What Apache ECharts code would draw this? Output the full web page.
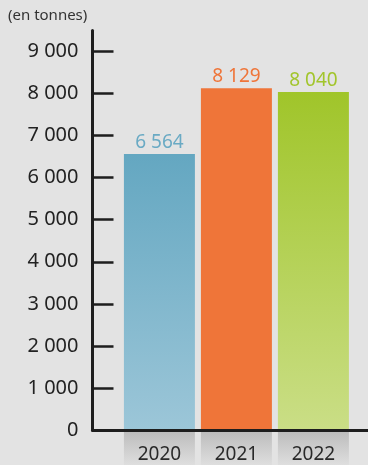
<!DOCTYPE html>
<html>
<head>
<meta charset="utf-8">
<script src="https://cdn.jsdelivr.net/npm/echarts@6/dist/echarts.min.js"></script>
<style>
html,body{margin:0;padding:0;background:#e3e3e3;}
#c{width:368px;height:465px;}
</style>
</head>
<body>
<div id="c"></div>
<script>
const years = [2020, 2021, 2022];
const values = [6564, 8129, 8040];
const yTicks = [0, 1000, 2000, 3000, 4000, 5000, 6000, 7000, 8000, 9000];
const unitLabel = '(en tonnes)';

const barTop = ['#64a7c1', '#ef7539', '#a0c52a'];
const barBottom = ['#9cc6d8', '#ef7539', '#cade86'];
const labelColors = ['#6aaac4', '#ef7539', '#a2c52c'];

function fmt(v) { return String(v).replace(/\B(?=(\d{3})+(?!\d))/g, ' '); }
function grad(a, b) {
  return new echarts.graphic.LinearGradient(0, 0, 0, 1, [{offset: 0, color: a}, {offset: 1, color: b}]);
}

const chart = echarts.init(document.getElementById('c'), null, {renderer: 'canvas'});
const xMin = 2019.131, xMax = 2022.709;
const font = '"Noto Sans", sans-serif';

chart.setOption({
  backgroundColor: '#e3e3e3',
  animation: false,
  graphic: [{
    type: 'text', left: 8, top: 8,
    style: {text: unitLabel, fontSize: 15, fontFamily: font, fill: '#333'}
  }],
  grid: [
    {left: 92.5, right: 0, top: 30.5, height: 399.5},
    {left: 92.5, right: 0, top: 432, height: 34}
  ],
  xAxis: [
    {gridIndex: 0, type: 'value', min: xMin, max: xMax, z: 5,
     axisLine: {show: true, lineStyle: {color: '#1e1e1e', width: 3}},
     axisTick: {show: false}, axisLabel: {show: false}, splitLine: {show: false}},
    {gridIndex: 1, type: 'value', min: xMin, max: xMax, show: false}
  ],
  yAxis: [
    {gridIndex: 0, type: 'value', min: 0, max: 9500, interval: 1000, z: 5,
     axisLine: {show: true, lineStyle: {color: '#1e1e1e', width: 3}},
     axisTick: {show: true, inside: true, length: 21, customValues: yTicks,
                lineStyle: {color: '#1e1e1e', width: 2.5}},
     axisLabel: {customValues: yTicks, margin: 14, fontSize: 20, fontFamily: font, color: '#222',
                 formatter: fmt},
     splitLine: {show: false}},
    {gridIndex: 1, type: 'value', min: 0, max: 1, show: false}
  ],
  series: [
    {
      type: 'bar', xAxisIndex: 0, yAxisIndex: 0, barWidth: 71,
      data: years.map((y, i) => ({
        value: [y, values[i]],
        itemStyle: {color: grad(barTop[i], barBottom[i])},
        label: {color: labelColors[i]}
      })),
      label: {show: true, position: 'top', distance: 2, fontSize: 19, fontFamily: font,
              formatter: p => fmt(p.value[1])}
    },
    {
      type: 'bar', xAxisIndex: 1, yAxisIndex: 1, barWidth: 71, silent: true,
      data: years.map(y => [y, 1]),
      itemStyle: {color: grad('#bdbdbd', '#dedede')},
      label: {show: true, position: 'inside', offset: [0, 6], fontSize: 19, fontFamily: font,
              color: '#2a2a2a', formatter: p => String(p.value[0])}
    }
  ]
});
</script>
</body>
</html>
